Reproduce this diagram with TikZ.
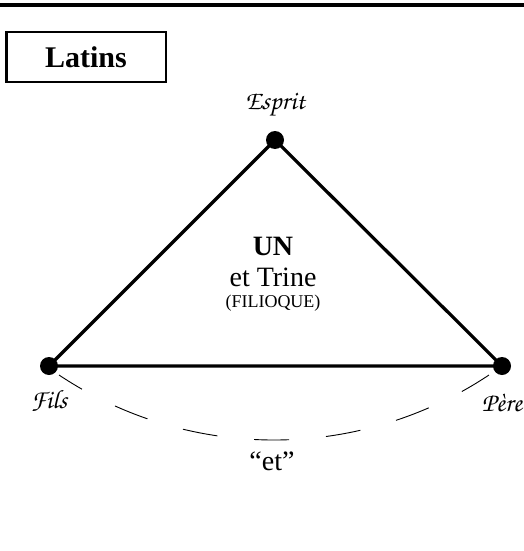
\documentclass[tikz,border=0pt]{standalone}
\usepackage{fontspec}
\setmainfont{Liberation Serif}
\IfFontExistsTF{texgyrechorus-mediumitalic.otf}
  {\newfontfamily\myscript{texgyrechorus-mediumitalic.otf}}
  {\newfontfamily\myscript{Liberation Serif Italic}}
\tikzset{
  vertexdot/.style={circle, fill=black, inner sep=0pt, minimum size=18pt},
  scriptlab/.style={inner sep=0pt, font=\myscript\fontsize{26.5}{28}\selectfont},
  edge/.style={line width=3.2pt, line join=round},
  titlebox/.style={draw, line width=2.5pt, minimum width=159.5pt, minimum height=49.5pt, inner sep=0pt, font=\bfseries\fontsize{30}{32}\selectfont},
  centertext/.style={inner sep=0pt, font=\fontsize{28}{30}\selectfont},
  smalltext/.style={inner sep=0pt, font=\fontsize{18}{20}\selectfont},
  etarc/.style={line width=0.9pt, dash pattern=on 35pt off 37pt, dash phase=8pt}
}
\begin{document}
\begin{tikzpicture}[x=1pt,y=-1pt]
\useasboundingbox (0,0) rectangle (524,551);
\coordinate (ruleL) at (0,5);
\coordinate (ruleR) at (524,5);
\draw[line width=4pt] (ruleL) -- (ruleR);
\node[titlebox] (latins) at (86,57) {Latins};
\node[vertexdot] (esprit) at (275,140) {};
\node[vertexdot] (fils) at (49,366) {};
\node[vertexdot] (pere) at (502,366) {};
\draw[edge] (esprit.center) -- (fils.center) -- (pere.center) -- cycle;
\node[scriptlab] (lesprit) at (275,105) {Esprit};
\node[scriptlab] (lfils) at (49,401) {Fils};
\node[scriptlab] (lpere) at (502,403) {Père};
\node[centertext] (un) at (273,246) {\bfseries UN};
\node[centertext] (trine) at (273,277) {et Trine};
\node[smalltext] (filioque) at (273,303) {(FILIOQUE)};
\coordinate (arcL) at (59,375);
\draw[etarc] (arcL) arc[start angle=123.65, end angle=56.35, radius=388];
\node[centertext] (et) at (272,461) {“et”};
\end{tikzpicture}
\end{document}
